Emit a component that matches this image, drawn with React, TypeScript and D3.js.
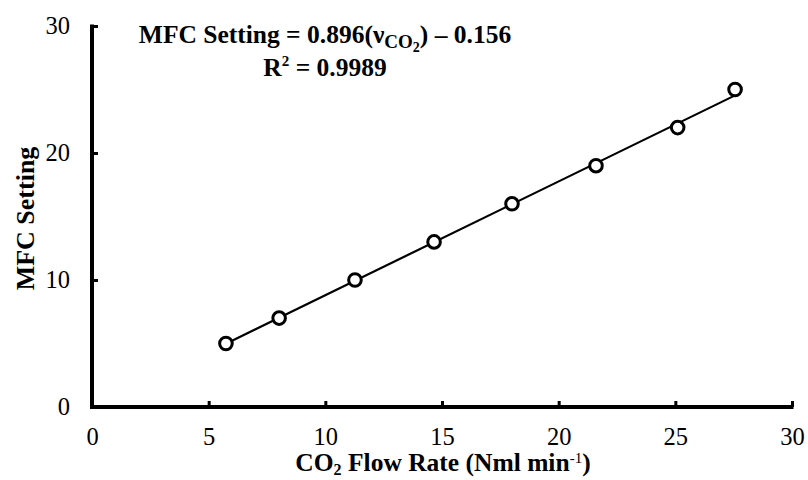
import React, { useEffect, useRef } from 'react';
import * as d3 from 'd3';

// measured points (CO2 flow rate vs MFC setting)
const flowRates = [5.74, 8.02, 11.27, 14.66, 18.0, 21.6, 25.1, 27.56];
const mfcSettings = [5, 7, 10, 13, 16, 19, 22, 25];
const xTicks = [0, 5, 10, 15, 20, 25, 30];
const yTicks = [0, 10, 20, 30];
const slope = 0.896;
const intercept = -0.156;

const W = 808;
const H = 480;
const margin = { left: 92, top: 26, right: 16, bottom: 73 };

export default function App() {
  const ref = useRef<SVGSVGElement>(null);

  useEffect(() => {
    const svg = d3.select(ref.current);
    svg.selectAll('*').remove();

    const x = d3.scaleLinear().domain([0, 30]).range([margin.left, W - margin.right]);
    const y = d3.scaleLinear().domain([0, 30]).range([H - margin.bottom, margin.top]);
    const font = '"Liberation Serif", "Times New Roman", serif';

    // axes
    const xAxis = d3.axisBottom(x).tickValues(xTicks).tickSizeInner(-6).tickSizeOuter(0).tickPadding(21);
    const gx = svg.append('g').attr('transform', `translate(0,${y(0)})`).call(xAxis);
    gx.select('.domain').attr('stroke-width', 4).attr('d', `M${x(0) - 2},0H${x(30) + 1.5}`);
    gx.selectAll('.tick line').attr('stroke-width', 3);
    gx.selectAll('.tick text').attr('font-family', font).attr('font-size', 24.5).attr('fill', '#000');

    const yAxis = d3.axisLeft(y).tickValues(yTicks).tickSizeInner(-6).tickSizeOuter(0).tickPadding(22);
    const gy = svg.append('g').attr('transform', `translate(${x(0)},0)`).call(yAxis);
    gy.select('.domain').attr('stroke-width', 4).attr('d', `M0,${y(0) + 2}V${y(30) - 1.5}`);
    gy.selectAll('.tick line').attr('stroke-width', 3);
    gy.selectAll('.tick text').attr('font-family', font).attr('font-size', 24.5).attr('fill', '#000');

    // fitted line
    const xs = [flowRates[0], flowRates[flowRates.length - 1]];
    const line = d3.line<number>().x(d => x(d)).y(d => y(slope * d + intercept));
    svg.append('path').attr('d', line(xs)).attr('fill', 'none').attr('stroke', '#000').attr('stroke-width', 2.2);

    // points
    svg.append('g').selectAll('circle').data(flowRates).join('circle')
      .attr('cx', d => x(d)).attr('cy', (d, i) => y(mfcSettings[i]))
      .attr('r', 6.3).attr('fill', '#fff').attr('stroke', '#000').attr('stroke-width', 3);

    // axis titles
    const xl = svg.append('text').attr('x', 443).attr('y', 471).attr('text-anchor', 'middle')
      .attr('font-family', font).attr('font-size', 25.5).attr('font-weight', 'bold');
    xl.append('tspan').text('CO');
    xl.append('tspan').text('2').attr('font-size', 16).attr('dy', 4);
    xl.append('tspan').text(' Flow Rate (Nml min').attr('dy', -4);
    xl.append('tspan').text('-1').attr('font-size', 15).attr('font-weight', 'normal').attr('dy', -8);
    xl.append('tspan').text(')').attr('dy', 8);

    svg.append('text').attr('transform', `translate(34,${y(15) + 2}) rotate(-90)`).attr('text-anchor', 'middle')
      .attr('font-family', font).attr('font-size', 26).attr('font-weight', 'bold').text('MFC Setting');

    // equation
    const eq = svg.append('text').attr('x', 325).attr('y', 43).attr('text-anchor', 'middle')
      .attr('font-family', font).attr('font-size', 25.5).attr('font-weight', 'bold');
    eq.append('tspan').text('MFC Setting = 0.896(ν');
    eq.append('tspan').text('CO').attr('font-size', 19).attr('dy', 5);
    eq.append('tspan').text('2').attr('font-size', 14).attr('dy', 4);
    eq.append('tspan').text(') \u2013 0.156').attr('dy', -9);

    const r2 = svg.append('text').attr('x', 325).attr('y', 76).attr('text-anchor', 'middle')
      .attr('font-family', font).attr('font-size', 25.5).attr('font-weight', 'bold');
    r2.append('tspan').text('R');
    r2.append('tspan').text('2').attr('font-size', 15).attr('dy', -10);
    r2.append('tspan').text(' = 0.9989').attr('dy', 10);
  }, []);

  return <svg ref={ref} width={W} height={H} style={{ position: 'absolute', left: 0, top: 0 }} />;
}
